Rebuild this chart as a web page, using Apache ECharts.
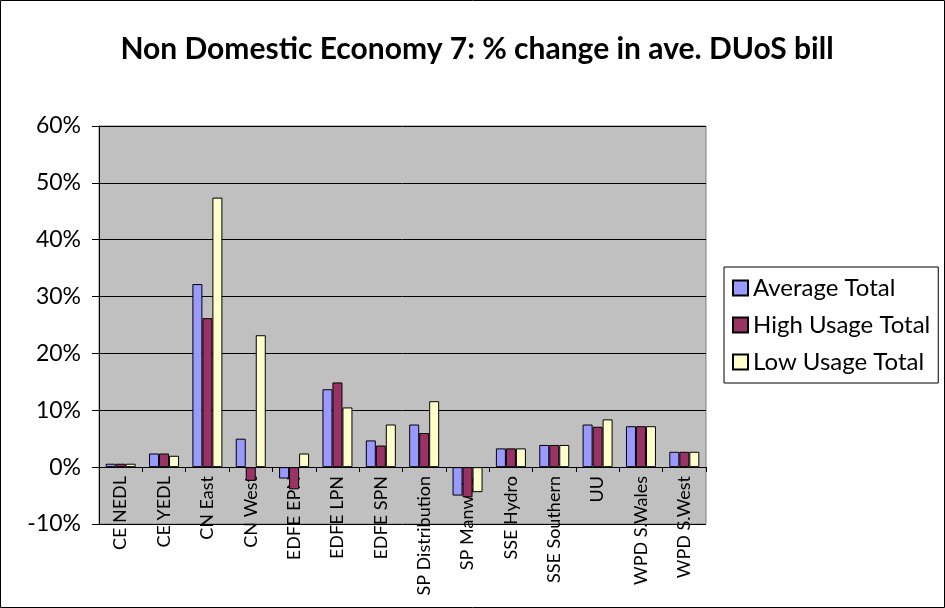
<!DOCTYPE html>
<html>
<head>
<meta charset="utf-8">
<script src="https://cdn.jsdelivr.net/npm/echarts@6/dist/echarts.min.js"></script>
<style>
html, body { margin: 0; padding: 0; background: #ffffff; }
#chart { width: 945px; height: 608px; }
</style>
</head>
<body>
<div id="chart"></div>
<script>
// operators (x categories)
var categories = ['CE NEDL', 'CE YEDL', 'CN East', 'CN West', 'EDFE EPN', 'EDFE LPN', 'EDFE SPN',
    'SP Distribution', 'SP Manweb', 'SSE Hydro', 'SSE Southern', 'UU', 'WPD S.Wales', 'WPD S.West']
// % change
var averageTotal = [0.6, 2.4, 32.2, 5.0, -2.0, 13.7, 4.7, 7.5, -5.0, 3.3, 3.9, 7.5, 7.2, 2.7]
var highUsage = [0.6, 2.4, 26.2, -2.4, -3.9, 14.9, 3.8, 6.0, -5.3, 3.3, 3.9, 7.1, 7.2, 2.7]
var lowUsage = [0.6, 2.0, 47.4, 23.2, 2.4, 10.5, 7.5, 11.6, -4.4, 3.3, 3.9, 8.4, 7.2, 2.7]
var yTicks = { min: -10, max: 60, step: 10 }

var chart = echarts.init(document.getElementById('chart'))

function bar (name, data, color) {
    return {
        name: name,
        type: 'bar',
        data: data,
        barWidth: 10,
        barGap: '0%',
        itemStyle: {
            color: color,
            borderColor: '#000000',
            borderWidth: 1
        }
    }
}

chart.setOption({
    backgroundColor: '#ffffff',
    animation: false,
    title: {
        text: 'Non Domestic Economy 7: % change in ave. DUoS bill',
        left: 472,
        textAlign: 'center',
        top: 29,
        textStyle: {
            fontFamily: 'Lato',
            fontWeight: 'bold',
            fontSize: 30,
            color: '#000000'
        }
    },
    legend: {
        orient: 'vertical',
        left: 724,
        top: 267,
        padding: [9, 8, 9, 8],
        itemGap: 13,
        itemWidth: 15,
        itemHeight: 15,
        icon: 'rect',
        borderColor: '#000000',
        borderWidth: 1,
        textStyle: {
            fontFamily: 'Lato',
            fontSize: 24,
            color: '#000000'
        }
    },
    grid: {
        left: 99,
        right: 239,
        top: 126,
        bottom: 84,
        outerBoundsMode: 'none',
        show: true,
        backgroundColor: '#c0c0c0',
        borderColor: '#808080',
        borderWidth: 1
    },
    xAxis: {
        type: 'category',
        data: categories,
        // axis sits on the 0% line
        offset: -57,
        axisLine: { onZero: false, lineStyle: { color: '#000000', width: 1 } },
        axisTick: { show: true, length: 5, lineStyle: { color: '#000000' } },
        axisLabel: {
            rotate: 90,
            interval: 0,
            margin: 9,
            fontFamily: 'Lato',
            fontSize: 18,
            color: '#000000'
        }
    },
    yAxis: {
        type: 'value',
        min: yTicks.min,
        max: yTicks.max,
        interval: yTicks.step,
        axisLine: { show: true, lineStyle: { color: '#000000', width: 1 } },
        axisTick: { show: true, length: 7, lineStyle: { color: '#000000' } },
        splitLine: { lineStyle: { color: '#000000', width: 1 } },
        axisLabel: {
            formatter: '{value}%',
            margin: 18,
            fontFamily: 'Lato',
            fontSize: 23,
            color: '#000000'
        }
    },
    graphic: [{
        type: 'rect',
        shape: { x: 0.5, y: 0.5, width: 944, height: 607 },
        style: { fill: 'none', stroke: '#000000', lineWidth: 1 },
        silent: true
    }],
    series: [
        bar('Average Total', averageTotal, '#9999ff'),
        bar('High Usage Total', highUsage, '#993366'),
        bar('Low Usage Total', lowUsage, '#ffffcc')
    ]
})
</script>
</body>
</html>
